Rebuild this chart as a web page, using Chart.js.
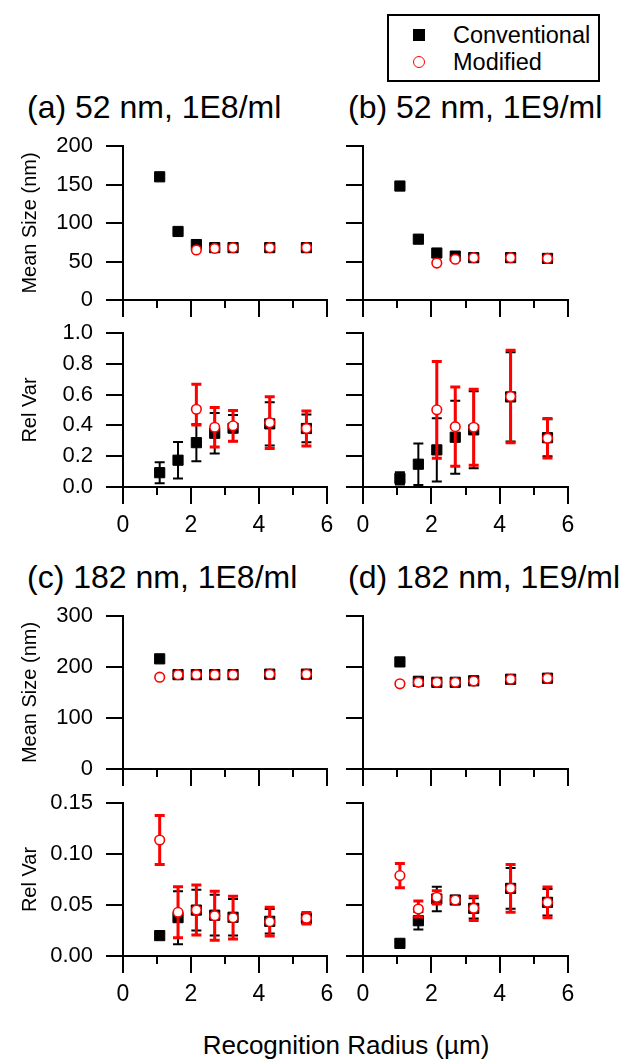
<!DOCTYPE html>
<html><head><meta charset="utf-8">
<script src="https://cdn.jsdelivr.net/npm/chart.js@4.4.0/dist/chart.umd.min.js"></script>
<style>
html,body{margin:0;padding:0;background:#fff;}
body{width:623px;height:1061px;position:relative;overflow:hidden;font-family:'Liberation Sans',Arial,Helvetica,sans-serif;color:#000;}
canvas{position:absolute;}
.t{position:absolute;white-space:nowrap;line-height:1;}
.ptitle{font-size:32px;}
</style></head><body>

<div class="t ptitle" style="left:27px;top:91px;">(a) 52 nm, 1E8/ml</div>
<div class="t ptitle" style="left:348px;top:91px;">(b) 52 nm, 1E9/ml</div>
<div class="t ptitle" style="left:27px;top:561px;">(c) 182 nm, 1E8/ml</div>
<div class="t ptitle" style="left:348px;top:561px;">(d) 182 nm, 1E9/ml</div>
<div class="t" style="left:146px;width:400px;text-align:center;top:1032px;font-size:26px;">Recognition Radius (µm)</div>

<div style="position:absolute;left:387px;top:14px;width:209px;height:64px;border:2px solid #000;">
  <div style="position:absolute;left:24px;top:13px;width:12px;height:12px;background:#000;"></div>
  <div style="position:absolute;left:24px;top:40px;width:12px;height:12px;box-sizing:border-box;border:1.5px solid #f00;border-radius:50%;background:#fff;"></div>
  <div class="t" style="left:64px;top:7.5px;font-size:23.5px;">Conventional</div>
  <div class="t" style="left:64px;top:34.5px;font-size:23.5px;">Modified</div>
</div>

<canvas id="ca1" width="335" height="190" style="left:0;top:130px"></canvas>
<canvas id="cb1" width="288" height="190" style="left:335px;top:130px"></canvas>
<canvas id="ca2" width="335" height="227" style="left:0;top:320px"></canvas>
<canvas id="cb2" width="288" height="227" style="left:335px;top:320px"></canvas>
<canvas id="cc1" width="335" height="189" style="left:0;top:600px"></canvas>
<canvas id="cd1" width="288" height="189" style="left:335px;top:600px"></canvas>
<canvas id="cc2" width="335" height="227" style="left:0;top:789px"></canvas>
<canvas id="cd2" width="288" height="227" style="left:335px;top:789px"></canvas>

<script>
// ---------- data ----------
const radius      = [1.08, 1.62, 2.16, 2.70, 3.24, 4.32, 5.40];   // µm, conventional & 182 nm modified
const radiusMod52 = [2.16, 2.70, 3.24, 4.32, 5.40];               // µm, 52 nm modified

// (a) 52 nm, 1E8/ml
const sizeConvA = [160, 89, 72, 68, 68, 68, 68];
const sizeModA  = [65, 67, 68, 68, 68];
const relConvA  = [0.093, 0.174, 0.288, 0.349, 0.382, 0.41, 0.38];
const errConvA  = [0.068, 0.118, 0.12, 0.132, 0.085, 0.14, 0.09];
const relModA   = [0.505, 0.388, 0.397, 0.418, 0.38];
const errModA   = [[0.102, 0.163], 0.128, 0.10, 0.168, 0.113];

// (b) 52 nm, 1E9/ml
const sizeConvB = [148, 79, 61, 57, 55, 55, 54];
const sizeModB  = [48, 53, 55, 55, 54];
const relConvB  = [0.056, 0.148, 0.241, 0.323, 0.371, 0.585, 0.32];
const errConvB  = [0.04, 0.135, 0.205, 0.237, 0.25, 0.29, 0.12];
const relModB   = [0.501, 0.392, 0.388, 0.588, 0.317];
const errModB   = [0.314, 0.258, 0.247, 0.30, 0.128];

// (c) 182 nm, 1E8/ml
const sizeConvC = [216, 185, 185, 185, 185, 186, 186];
const sizeModC  = [180, 185, 185, 185, 185, 186, 186];
const relConvC  = [0.020, 0.0376, 0.045, 0.040, 0.038, 0.034, 0.037];
const errConvC  = [0, 0.026, 0.02, 0.02, 0.018, 0.012, 0.005];
const relModC   = [0.1137, 0.0428, 0.0451, 0.0395, 0.0376, 0.0337, 0.037];
const errModC   = [0.024, 0.025, 0.0245, 0.024, 0.021, 0.014, 0.0057];

// (d) 182 nm, 1E9/ml
const sizeConvD = [210, 172, 170, 170, 173, 176, 178];
const sizeModD  = [167, 170, 170, 170, 172.5, 176, 178];
const relConvD  = [0.0124, 0.0346, 0.0559, 0.0549, 0.0467, 0.0663, 0.0526];
const errConvD  = [0, 0.0085, 0.012, 0.003, 0.01, 0.02, 0.013];
const relModD   = [0.0788, 0.0461, 0.0575, 0.0549, 0.0467, 0.0663, 0.0526];
const errModD   = [0.012, 0.0078, 0.0065, 0.002, 0.0118, 0.0235, 0.015];

// axis tick settings
const xTicks = [0, 2, 4, 6];
const sizeAxis52  = {min: 0, max: 200, step: 50, dec: 0};
const relAxis52   = {min: 0, max: 1.0, step: 0.2, dec: 1};
const sizeAxis182 = {min: 0, max: 300, step: 100, dec: 0};
const relAxis182  = {min: 0, max: 0.15, step: 0.05, dec: 2};

// ---------- rendering ----------
const FONT = "'Liberation Sans', Arial, Helvetica, sans-serif";
Chart.defaults.font.family = FONT;
Chart.defaults.color = '#000';

const tickPlugin = {
  id: 'axisTicks',
  afterDraw(chart) {
    const ctx = chart.ctx, a = chart.chartArea;
    const xs = chart.scales.x, ys = chart.scales.y;
    ctx.save();
    ctx.strokeStyle = '#000'; ctx.lineWidth = 2; ctx.lineCap = 'butt';
    ctx.beginPath();
    ys.ticks.forEach(t => {
      const p = Math.round(ys.getPixelForValue(t.value));
      ctx.moveTo(a.left - 17, p); ctx.lineTo(a.left + 1, p);
    });
    xs.ticks.forEach(t => {
      const p = Math.round(xs.getPixelForValue(t.value));
      const len = xTicks.includes(Math.round(t.value)) ? 17 : 8;
      ctx.moveTo(p, a.bottom - 1); ctx.lineTo(p, a.bottom + len);
    });
    ctx.stroke();
    ctx.restore();
  }
};

const errPlugin = {
  id: 'errBars',
  beforeDatasetDraw(chart, args) {
    const ds = chart.data.datasets[args.index];
    if (!ds.errors) return;
    const ys = chart.scales.y, ctx = chart.ctx;
    ctx.save();
    ctx.strokeStyle = ds.errColor; ctx.lineWidth = ds.errWidth; ctx.lineCap = 'butt';
    ctx.beginPath();
    args.meta.data.forEach((pt, i) => {
      const e = ds.errors[i];
      if (e == null) return;
      const dn = Array.isArray(e) ? e[0] : e;
      const up = Array.isArray(e) ? e[1] : e;
      if (!dn && !up) return;
      const v = ds.data[i].y;
      const x = pt.x;
      const y1 = ys.getPixelForValue(v + up), y2 = ys.getPixelForValue(v - dn);
      ctx.moveTo(x, y1); ctx.lineTo(x, y2);
      ctx.moveTo(x - 5, y1); ctx.lineTo(x + 5, y1);
      ctx.moveTo(x - 5, y2); ctx.lineTo(x + 5, y2);
    });
    ctx.stroke();
    ctx.restore();
  }
};

const pts = (xs, ys) => xs.map((x, i) => ({x: x, y: ys[i]}));
const zeroPad = s => { s.paddingTop = 0; s.paddingBottom = 0; s.paddingLeft = 0; s.paddingRight = 0; };

function panel(id, o) {
  const leftCol = o.col === 0;
  new Chart(document.getElementById(id), {
    type: 'scatter',
    data: {
      datasets: [
        {label: 'Conventional', data: pts(o.convX, o.conv), errors: o.convErr,
         errColor: '#000', errWidth: 2, pointStyle: 'rect', pointRadius: 7.2,
         pointBackgroundColor: '#000', pointBorderColor: '#000', pointBorderWidth: 1,
         order: 2, clip: false},
        {label: 'Modified', data: pts(o.modX, o.mod), errors: o.modErr,
         errColor: '#f00', errWidth: 3, pointStyle: 'circle', pointRadius: 4.8,
         pointBackgroundColor: '#fff', pointBorderColor: '#f00', pointBorderWidth: 1.6,
         order: 1, clip: false}
      ]
    },
    options: {
      responsive: false, animation: false, devicePixelRatio: 1, events: [],
      layout: {padding: {left: 0, right: leftCol ? 8 : 55, top: o.padT, bottom: 0}},
      plugins: {legend: {display: false}, tooltip: {enabled: false}},
      scales: {
        x: {
          type: 'linear', min: 0, max: 6,
          grid: {display: false, drawTicks: false},
          border: {display: true, color: '#000', width: 2},
          ticks: {display: o.xLabels, stepSize: 1, autoSkip: false, maxRotation: 0,
                  padding: 25, font: {size: 23},
                  callback: v => xTicks.includes(v) ? String(v) : ''},
          afterFit: s => { s.height = o.xH; zeroPad(s); }
        },
        y: {
          type: 'linear', min: o.axis.min, max: o.axis.max,
          grid: {display: false, drawTicks: false},
          border: {display: true, color: '#000', width: 2},
          ticks: {display: leftCol, stepSize: o.axis.step, autoSkip: false, padding: 30,
                  font: {size: 22}, callback: v => Number(v).toFixed(o.axis.dec)},
          title: {display: leftCol, text: o.title, font: {size: 20}, padding: {top: 18, bottom: 0}},
          afterFit: s => { s.width = leftCol ? 123 : 28; zeroPad(s); }
        }
      }
    },
    plugins: [tickPlugin, errPlugin]
  });
}

panel('ca1', {col: 0, padT: 16, xH: 20, xLabels: false, axis: sizeAxis52, title: 'Mean Size (nm)',
  convX: radius, conv: sizeConvA, modX: radiusMod52, mod: sizeModA});
panel('cb1', {col: 1, padT: 16, xH: 20, xLabels: false, axis: sizeAxis52, title: 'Mean Size (nm)',
  convX: radius, conv: sizeConvB, modX: radiusMod52, mod: sizeModB});
panel('ca2', {col: 0, padT: 13, xH: 60, xLabels: true, axis: relAxis52, title: 'Rel Var',
  convX: radius, conv: relConvA, convErr: errConvA, modX: radiusMod52, mod: relModA, modErr: errModA});
panel('cb2', {col: 1, padT: 13, xH: 60, xLabels: true, axis: relAxis52, title: 'Rel Var',
  convX: radius, conv: relConvB, convErr: errConvB, modX: radiusMod52, mod: relModB, modErr: errModB});
panel('cc1', {col: 0, padT: 16, xH: 20, xLabels: false, axis: sizeAxis182, title: 'Mean Size (nm)',
  convX: radius, conv: sizeConvC, modX: radius, mod: sizeModC});
panel('cd1', {col: 1, padT: 16, xH: 20, xLabels: false, axis: sizeAxis182, title: 'Mean Size (nm)',
  convX: radius, conv: sizeConvD, modX: radius, mod: sizeModD});
panel('cc2', {col: 0, padT: 14, xH: 60, xLabels: true, axis: relAxis182, title: 'Rel Var',
  convX: radius, conv: relConvC, convErr: errConvC, modX: radius, mod: relModC, modErr: errModC});
panel('cd2', {col: 1, padT: 14, xH: 60, xLabels: true, axis: relAxis182, title: 'Rel Var',
  convX: radius, conv: relConvD, convErr: errConvD, modX: radius, mod: relModD, modErr: errModD});
</script>
</body></html>
